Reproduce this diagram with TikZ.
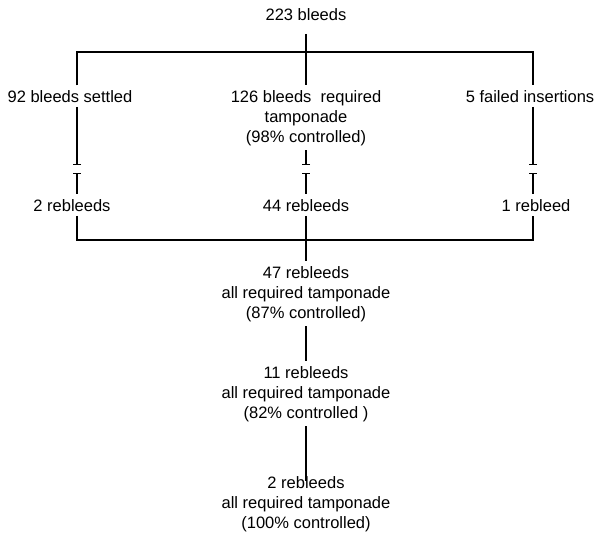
\documentclass[tikz,border=0pt]{standalone}
\usepackage{fontspec}
\setmainfont{Liberation Sans}
\usetikzlibrary{arrows.meta}
\begin{document}
\begin{tikzpicture}[x=1pt,y=-1pt,line width=1.3pt,
  lbl/.style={anchor=base,align=center,inner sep=4pt,font={\fontsize{16.5}{20}\selectfont}},
  endbar/.style={-{Bar[width=8pt]}},
  startbar/.style={{Bar[width=8pt]}-}]
\useasboundingbox (0,0) rectangle (601,533);

\node[lbl] (total) at (306,20) {223 bleeds};
\node[lbl] (settled) at (70,102) {92 bleeds settled};
\node[lbl] (tamp) at (306,142) {126 bleeds\ \ required\\tamponade\\(98\% controlled)};
\node[lbl] (failed) at (530,102) {5 failed insertions};

\node[lbl] (rebA) at (72,211) {2 rebleeds};
\node[lbl] (rebB) at (306,211) {44 rebleeds};
\node[lbl] (rebC) at (536,211) {1 rebleed};

\node[lbl] (sumA) at (306,318) {47 rebleeds\\all required tamponade\\(87\% controlled)};
\node[lbl] (sumB) at (306,418) {11 rebleeds\\all required tamponade\\(82\% controlled )};
\node[lbl] (sumC) at (306,528) {2 rebleeds\\all required tamponade\\(100\% controlled)};

\coordinate (barL) at (77,52);
\coordinate (barR) at (533,52);
\coordinate (footL) at (77,240);
\coordinate (footR) at (533,240);
\coordinate (cutL) at (77,165);
\coordinate (cutM) at (306,165);
\coordinate (cutR) at (533,165);
\coordinate (resL) at (77,173);
\coordinate (resM) at (306,173);
\coordinate (resR) at (533,173);

\draw[shorten <=9pt] (total) -- (tamp);
\draw (barL |- settled.north) -- (barL) -- (barR) -- (barR |- failed.north);

\draw[endbar] (barL |- settled.south) -- (cutL);
\draw[endbar] (tamp) -- (cutM);
\draw[endbar] (barR |- failed.south) -- (cutR);
\draw[startbar] (resL) -- (barL |- rebA.north);
\draw[startbar] (resM) -- (rebB);
\draw[startbar] (resR) -- (barR |- rebC.north);

\draw (barL |- rebA.south) -- (footL) -- (footR) -- (barR |- rebC.south);
\draw (rebB) -- (sumA);
\draw (sumA) -- (sumB);
\draw[shorten >=-10pt] (sumB) -- (sumC);
\end{tikzpicture}
\end{document}
